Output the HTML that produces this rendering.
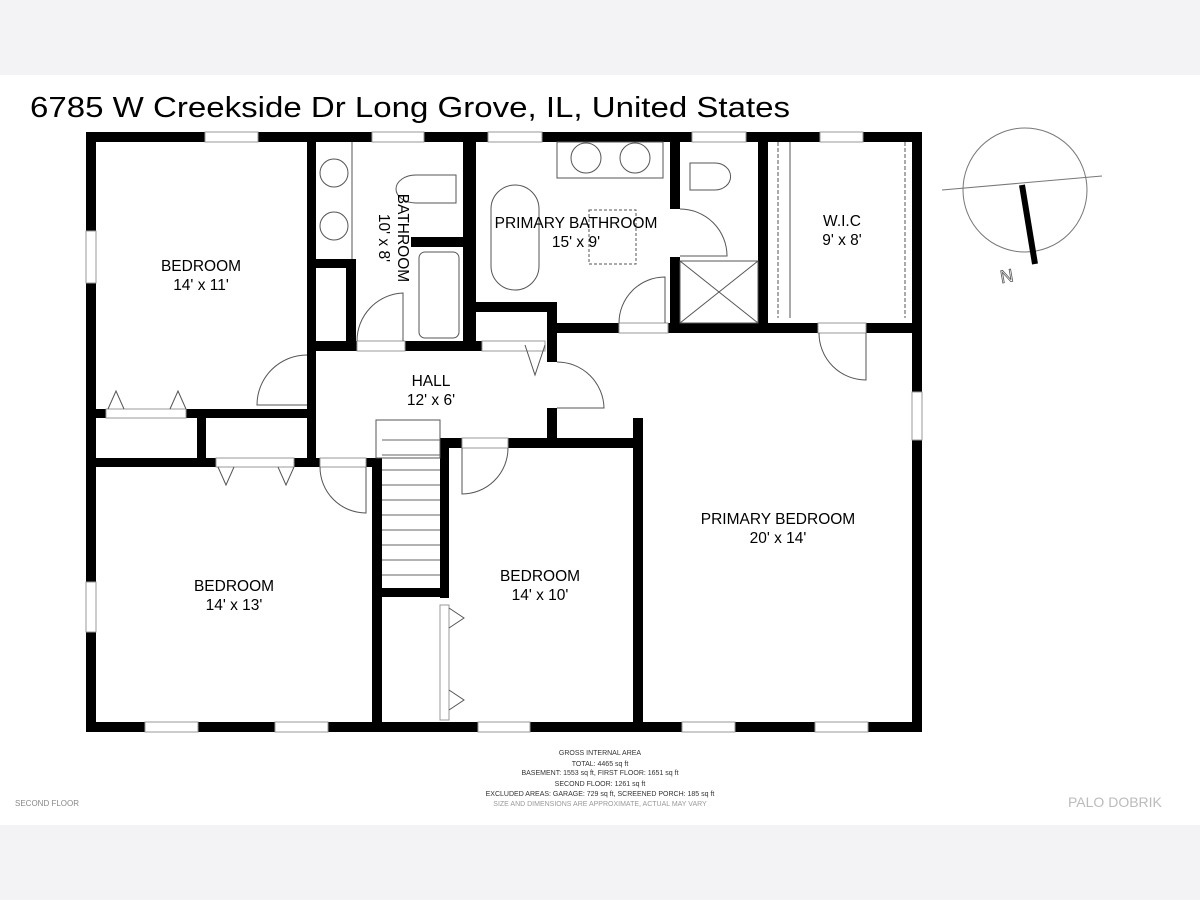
<!DOCTYPE html>
<html><head><meta charset="utf-8"><style>
html,body{margin:0;padding:0;background:#f3f2f4;}
.page{position:relative;width:1200px;height:900px;overflow:hidden;background:#f3f2f4;}
svg{position:absolute;left:0;top:0;}
text{font-family:"Liberation Sans","DejaVu Sans",sans-serif;}
</style></head><body><div class="page">
<svg width="1200" height="900" viewBox="0 0 1200 900" xmlns="http://www.w3.org/2000/svg">
<rect x="0" y="75" width="1200" height="750" fill="#fff"/>
<text x="30" y="117" font-size="29" fill="#000" textLength="760" lengthAdjust="spacingAndGlyphs">6785 W Creekside Dr Long Grove, IL, United States</text>
<g fill="#000">
<rect x="86" y="132" width="836" height="10"/>
<rect x="86" y="722" width="836" height="10"/>
<rect x="86" y="132" width="10" height="600"/>
<rect x="912" y="132" width="10" height="600"/>
<rect x="307" y="137" width="9" height="330"/>
<rect x="96" y="409" width="220" height="9"/>
<rect x="197" y="418" width="9" height="45"/>
<rect x="96" y="458" width="286" height="9"/>
<rect x="316" y="259" width="40" height="9"/>
<rect x="346" y="259" width="10" height="92"/>
<rect x="316" y="341" width="41" height="10"/>
<rect x="405" y="341" width="75" height="10"/>
<rect x="411" y="237" width="65" height="10"/>
<rect x="463" y="137" width="13" height="214"/>
<rect x="476" y="302" width="81" height="10"/>
<rect x="547" y="302" width="10" height="60"/>
<rect x="547" y="408" width="10" height="40"/>
<rect x="476" y="341" width="10" height="10"/>
<rect x="557" y="323" width="62" height="10"/>
<rect x="668" y="323" width="150" height="10"/>
<rect x="866" y="323" width="50" height="10"/>
<rect x="670" y="137" width="10" height="72"/>
<rect x="670" y="257" width="10" height="76"/>
<rect x="758" y="137" width="10" height="196"/>
<rect x="445" y="438" width="198" height="10"/>
<rect x="633" y="418" width="10" height="310"/>
<rect x="372" y="458" width="10" height="270"/>
<rect x="440" y="438" width="9" height="160"/>
<rect x="382" y="588" width="67" height="9"/>
</g>
<g fill="#fff" stroke="#999" stroke-width="1">
<rect x="205" y="132" width="53" height="10"/>
<rect x="372" y="132" width="52" height="10"/>
<rect x="488" y="132" width="54" height="10"/>
<rect x="692" y="132" width="54" height="10"/>
<rect x="820" y="132" width="43" height="10"/>
<rect x="86" y="231" width="10" height="52"/>
<rect x="86" y="582" width="10" height="50"/>
<rect x="912" y="392" width="10" height="48"/>
<rect x="145" y="722" width="53" height="10"/>
<rect x="275" y="722" width="53" height="10"/>
<rect x="478" y="722" width="52" height="10"/>
<rect x="682" y="722" width="53" height="10"/>
<rect x="815" y="722" width="53" height="10"/>
<rect x="106" y="409" width="80" height="9"/>
<rect x="216" y="458" width="78" height="9"/>
<rect x="320" y="458" width="46" height="9"/>
<rect x="357" y="341" width="48" height="10"/>
<rect x="482" y="341" width="63" height="10"/>
<rect x="462" y="438" width="46" height="10"/>
<rect x="440" y="605" width="9" height="115"/>
<rect x="818" y="323" width="48" height="10"/>
<rect x="619" y="323" width="49" height="10"/>
</g>
<g fill="none" stroke="#555" stroke-width="1">
<line x1="352" y1="142" x2="352" y2="259"/>
<circle cx="334" cy="173" r="14"/><circle cx="334" cy="226" r="14"/>
<path d="M416 175 h40 v28 h-40 a20 14 0 0 1 0 -28z"/>
<rect x="419" y="252" width="40" height="86" rx="6"/>
<rect x="491" y="185" width="48" height="105" rx="24"/>
<rect x="557" y="142" width="106" height="36"/>
<circle cx="586" cy="158" r="15"/><circle cx="635" cy="158" r="15"/>
<rect x="589" y="210" width="47" height="54" stroke-dasharray="3,2"/>
<path d="M690 163 h25 a15 13 0 0 1 0 27 h-25z"/>
<path d="M680 209 a47 47 0 0 1 47 47 h-47"/>
<rect x="680" y="261" width="78" height="62"/>
<line x1="680" y1="261" x2="758" y2="323"/><line x1="758" y1="261" x2="680" y2="323"/>
<line x1="778" y1="142" x2="778" y2="318" stroke-dasharray="4,2"/>
<line x1="790" y1="142" x2="790" y2="318"/>
<line x1="905" y1="142" x2="905" y2="318" stroke-dasharray="4,2"/>
<path d="M619 323 a46 46 0 0 1 46 -46 v46"/>
<path d="M357 341 a48 48 0 0 1 46 -48 v48"/>
<path d="M307 405 h-50 a50 50 0 0 1 50 -50"/>
<path d="M557 362 a47 47 0 0 1 47 46 h-47"/>
<path d="M866 333 v47 a47 47 0 0 1 -47 -47"/>
<path d="M320 467 a46 46 0 0 0 46 46 v-46"/>
<path d="M462 448 v46 a46 46 0 0 0 46 -46"/>
<path d="M525 345 l10 30 l10 -30"/>
<path d="M108 409 l8 -18 l8 18 M170 409 l8 -18 l8 18"/>
<path d="M218 467 l8 18 l8 -18 M278 467 l8 18 l8 -18"/>
<path d="M449 608 l15 10 l-15 10 M449 690 l15 10 l-15 10"/>
<rect x="376" y="420" width="64" height="38"/>
<g stroke="#666">
<line x1="382" y1="470" x2="440" y2="470"/><line x1="382" y1="485" x2="440" y2="485"/>
<line x1="382" y1="500" x2="440" y2="500"/><line x1="382" y1="515" x2="440" y2="515"/>
<line x1="382" y1="530" x2="440" y2="530"/><line x1="382" y1="545" x2="440" y2="545"/>
<line x1="382" y1="560" x2="440" y2="560"/><line x1="382" y1="575" x2="440" y2="575"/>
<line x1="382" y1="440" x2="440" y2="440"/><line x1="382" y1="455" x2="440" y2="455"/>
</g>
</g>
<circle cx="1025" cy="190" r="62" fill="none" stroke="#777" stroke-width="1"/>
<line x1="942" y1="190" x2="1102" y2="176" stroke="#777"/>
<line x1="1022" y1="185" x2="1035" y2="264" stroke="#000" stroke-width="6"/>
<text x="1000" y="282" font-size="18" fill="#fff" stroke="#555" stroke-width="0.8" transform="rotate(-10 1008 275)">N</text>
<g font-size="15.5" fill="#000" text-anchor="middle">
<text x="201" y="271">BEDROOM</text><text x="201" y="290">14' x 11'</text>
<text x="431" y="386">HALL</text><text x="431" y="405">12' x 6'</text>
<text x="576" y="228">PRIMARY BATHROOM</text><text x="576" y="247">15' x 9'</text>
<text x="842" y="226">W.I.C</text><text x="842" y="245">9' x 8'</text>
<text x="234" y="591">BEDROOM</text><text x="234" y="610">14' x 13'</text>
<text x="540" y="581">BEDROOM</text><text x="540" y="600">14' x 10'</text>
<text x="778" y="524">PRIMARY BEDROOM</text><text x="778" y="543">20' x 14'</text>
<g transform="translate(393 238) rotate(90)"><text x="0" y="-5">BATHROOM</text><text x="0" y="14">10' x 8'</text></g>
</g>
<g font-size="7" fill="#333" text-anchor="middle">
<text x="600" y="755">GROSS INTERNAL AREA</text>
<text x="600" y="766">TOTAL: 4465 sq ft</text>
<text x="600" y="775">BASEMENT: 1553 sq ft, FIRST FLOOR: 1651 sq ft</text>
<text x="600" y="786">SECOND FLOOR: 1261 sq ft</text>
<text x="600" y="796">EXCLUDED AREAS: GARAGE: 729 sq ft, SCREENED PORCH: 185 sq ft</text>
<text x="600" y="806" fill="#999">SIZE AND DIMENSIONS ARE APPROXIMATE, ACTUAL MAY VARY</text>
</g>
<text x="15" y="806" font-size="8" fill="#888">SECOND FLOOR</text>
<text x="1068" y="807" font-size="14" fill="#bbb">PALO DOBRIK</text>
</svg>
</div></body></html>
